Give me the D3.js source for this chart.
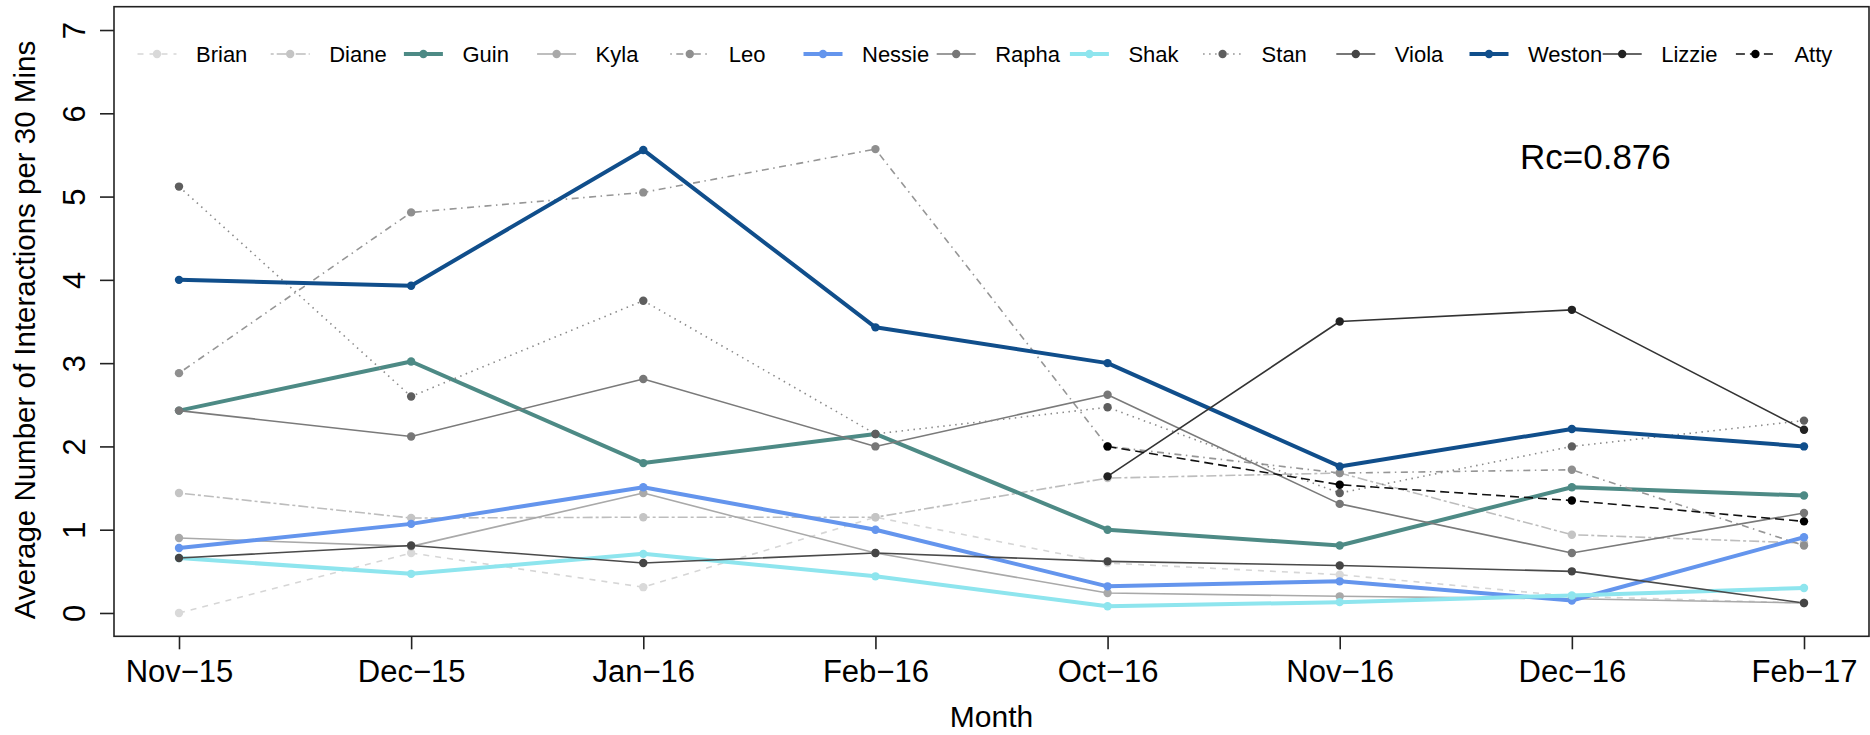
<!DOCTYPE html>
<html>
<head>
<meta charset="utf-8">
<script src="https://cdn.jsdelivr.net/npm/d3@7/dist/d3.min.js"></script>
<style>
  html, body { margin: 0; padding: 0; background: #fff; }
  svg { display: block; font-family: "Liberation Sans", Arial, Helvetica, sans-serif; }
</style>
</head>
<body>
<svg id="chart" width="1870" height="735"></svg>
<script>
// Monthly averages of interactions per 30 minutes, one array per person.
const months = ["Nov\u221215", "Dec\u221215", "Jan\u221216", "Feb\u221216", "Oct\u221216", "Nov\u221216", "Dec\u221216", "Feb\u221217"];
const yTicks = [0, 1, 2, 3, 4, 5, 6, 7];

const brian  = [0.00, 0.72, 0.31, 1.15, 0.60, 0.46, 0.20, 0.12];
const diane  = [1.44, 1.14, 1.15, 1.15, 1.62, 1.68, 0.94, 0.84];
const guin   = [2.43, 3.02, 1.80, 2.15, 1.00, 0.81, 1.51, 1.41];
const kyla   = [0.90, 0.80, 1.44, 0.72, 0.24, 0.20, 0.17, 0.12];
const leo    = [2.88, 4.81, 5.05, 5.57, 2.00, 1.68, 1.72, 0.81];
const nessie = [0.78, 1.07, 1.51, 1.00, 0.32, 0.38, 0.15, 0.91];
const rapha  = [2.43, 2.12, 2.81, 2.00, 2.62, 1.31, 0.72, 1.20];
const shak   = [0.66, 0.47, 0.71, 0.44, 0.08, 0.13, 0.21, 0.30];
const stan   = [5.12, 2.60, 3.75, 2.15, 2.47, 1.44, 2.00, 2.31];
const viola  = [0.66, 0.81, 0.60, 0.72, 0.62, 0.57, 0.50, 0.12];
const weston = [4.00, 3.93, 5.56, 3.43, 3.00, 1.76, 2.21, 2.00];
const lizzie = [null, null, null, null, 1.64, 3.50, 3.64, 2.20];
const atty   = [null, null, null, null, 2.00, 1.54, 1.35, 1.10];

const rcLabel = "Rc=0.876";

// Series styling (colour, line width, dash pattern, point colour)
const series = [
  { name: "Brian",  values: brian,  color: "#d6d6d6", pt: "#d9d9d9", width: 1.6, dash: "6,6" },
  { name: "Diane",  values: diane,  color: "#bdbdbd", pt: "#c4c4c4", width: 1.6, dash: "3,3,10,3" },
  { name: "Guin",   values: guin,   color: "#4d8a85", pt: "#4d8a85", width: 4,   dash: null },
  { name: "Kyla",   values: kyla,   color: "#a9a9a9", pt: "#a9a9a9", width: 1.6, dash: null },
  { name: "Leo",    values: leo,    color: "#969696", pt: "#8f8f8f", width: 1.6, dash: "1.5,4.5,7,4.5" },
  { name: "Nessie", values: nessie, color: "#6495ed", pt: "#6495ed", width: 4,   dash: null },
  { name: "Rapha",  values: rapha,  color: "#7a7a7a", pt: "#777777", width: 1.6, dash: null },
  { name: "Shak",   values: shak,   color: "#8ee5ee", pt: "#8ee5ee", width: 4,   dash: null },
  { name: "Stan",   values: stan,   color: "#8a8a8a", pt: "#5e5e5e", width: 1.6, dash: "1.5,4.5" },
  { name: "Viola",  values: viola,  color: "#4a4a4a", pt: "#454545", width: 1.6, dash: null },
  { name: "Weston", values: weston, color: "#104e8b", pt: "#104e8b", width: 4,   dash: null },
  { name: "Lizzie", values: lizzie, color: "#333333", pt: "#222222", width: 1.6, dash: null },
  { name: "Atty",   values: atty,   color: "#111111", pt: "#000000", width: 1.6, dash: "9,5" }
];

const svg = d3.select("#chart");

// Plot region; both axes extend 4% past the data range on each side.
const plot = { left: 114, right: 1869, top: 6.7, bottom: 636.3 };
const x = d3.scaleLinear().domain([-0.28, months.length - 1 + 0.28]).range([plot.left, plot.right]);
const y = d3.scaleLinear().domain([-0.28, 7.28]).range([plot.bottom, plot.top]);

const line = d3.line()
  .defined(d => d != null)
  .x((d, i) => x(i))
  .y(d => y(d));

// Lines
const g = svg.append("g");
series.forEach(s => {
  g.append("path")
    .datum(s.values)
    .attr("fill", "none")
    .attr("stroke", s.color)
    .attr("stroke-width", s.width)
    .attr("stroke-dasharray", s.dash)
    .attr("stroke-linejoin", "round")
    .attr("d", line);
});
// Points
series.forEach(s => {
  g.selectAll(null)
    .data(s.values.map((v, i) => ({ v, i })).filter(d => d.v != null))
    .enter().append("circle")
    .attr("cx", d => x(d.i))
    .attr("cy", d => y(d.v))
    .attr("r", 4.2)
    .attr("fill", s.pt);
});

// Frame
svg.append("rect")
  .attr("x", plot.left).attr("y", plot.top)
  .attr("width", plot.right - plot.left).attr("height", plot.bottom - plot.top)
  .attr("fill", "none").attr("stroke", "#222").attr("stroke-width", 1.6);

// X axis
const xAxis = svg.append("g")
  .attr("transform", `translate(0,${plot.bottom})`)
  .call(d3.axisBottom(x).tickValues(d3.range(months.length)).tickFormat(i => months[i]).tickSize(13).tickSizeOuter(0));
xAxis.select(".domain").remove();
xAxis.selectAll(".tick line").attr("stroke", "#222").attr("stroke-width", 1.6);
xAxis.selectAll(".tick text")
  .attr("y", 46).attr("dy", 0)
  .attr("fill", "#000")
  .style("font-size", "31px")
  .style("font-family", "'Liberation Sans', Arial, sans-serif");

// Y axis
const yAxis = svg.append("g")
  .attr("transform", `translate(${plot.left},0)`)
  .call(d3.axisLeft(y).tickValues(yTicks).tickFormat(d3.format("d")).tickSize(14).tickSizeOuter(0));
yAxis.select(".domain").remove();
yAxis.selectAll(".tick line").attr("stroke", "#222").attr("stroke-width", 1.6);
yAxis.selectAll(".tick text")
  .attr("x", 0).attr("dy", 0)
  .attr("transform", "translate(-29,0) rotate(-90)")
  .attr("text-anchor", "middle")
  .attr("fill", "#000")
  .style("font-size", "31px")
  .style("font-family", "'Liberation Sans', Arial, sans-serif");

// Axis titles
svg.append("text")
  .attr("x", (plot.left + plot.right) / 2).attr("y", 727)
  .attr("text-anchor", "middle")
  .style("font-size", "30px")
  .text("Month");
svg.append("text")
  .attr("transform", `translate(35,330) rotate(-90)`)
  .attr("text-anchor", "middle")
  .style("font-size", "29.5px")
  .text("Average Number of Interactions per 30 Mins");

// Correlation annotation
svg.append("text")
  .attr("x", 1520).attr("y", 169)
  .style("font-size", "35px")
  .text(rcLabel);

// Legend, one horizontal row inside the frame
const legend = svg.append("g");
const legX0 = 157, legStep = 133.2, legY = 54;
series.forEach((s, i) => {
  const cx = legX0 + i * legStep;
  const item = legend.append("g");
  item.append("line")
    .attr("x1", cx - 19.5).attr("x2", cx + 19.5)
    .attr("y1", legY).attr("y2", legY)
    .attr("stroke", s.color).attr("stroke-width", s.width)
    .attr("stroke-dasharray", s.dash);
  item.append("circle").attr("cx", cx).attr("cy", legY).attr("r", 4.2).attr("fill", s.pt);
  item.append("text")
    .attr("x", cx + 39).attr("y", legY + 8)
    .style("font-size", "22px")
    .text(s.name);
});
</script>
</body>
</html>
